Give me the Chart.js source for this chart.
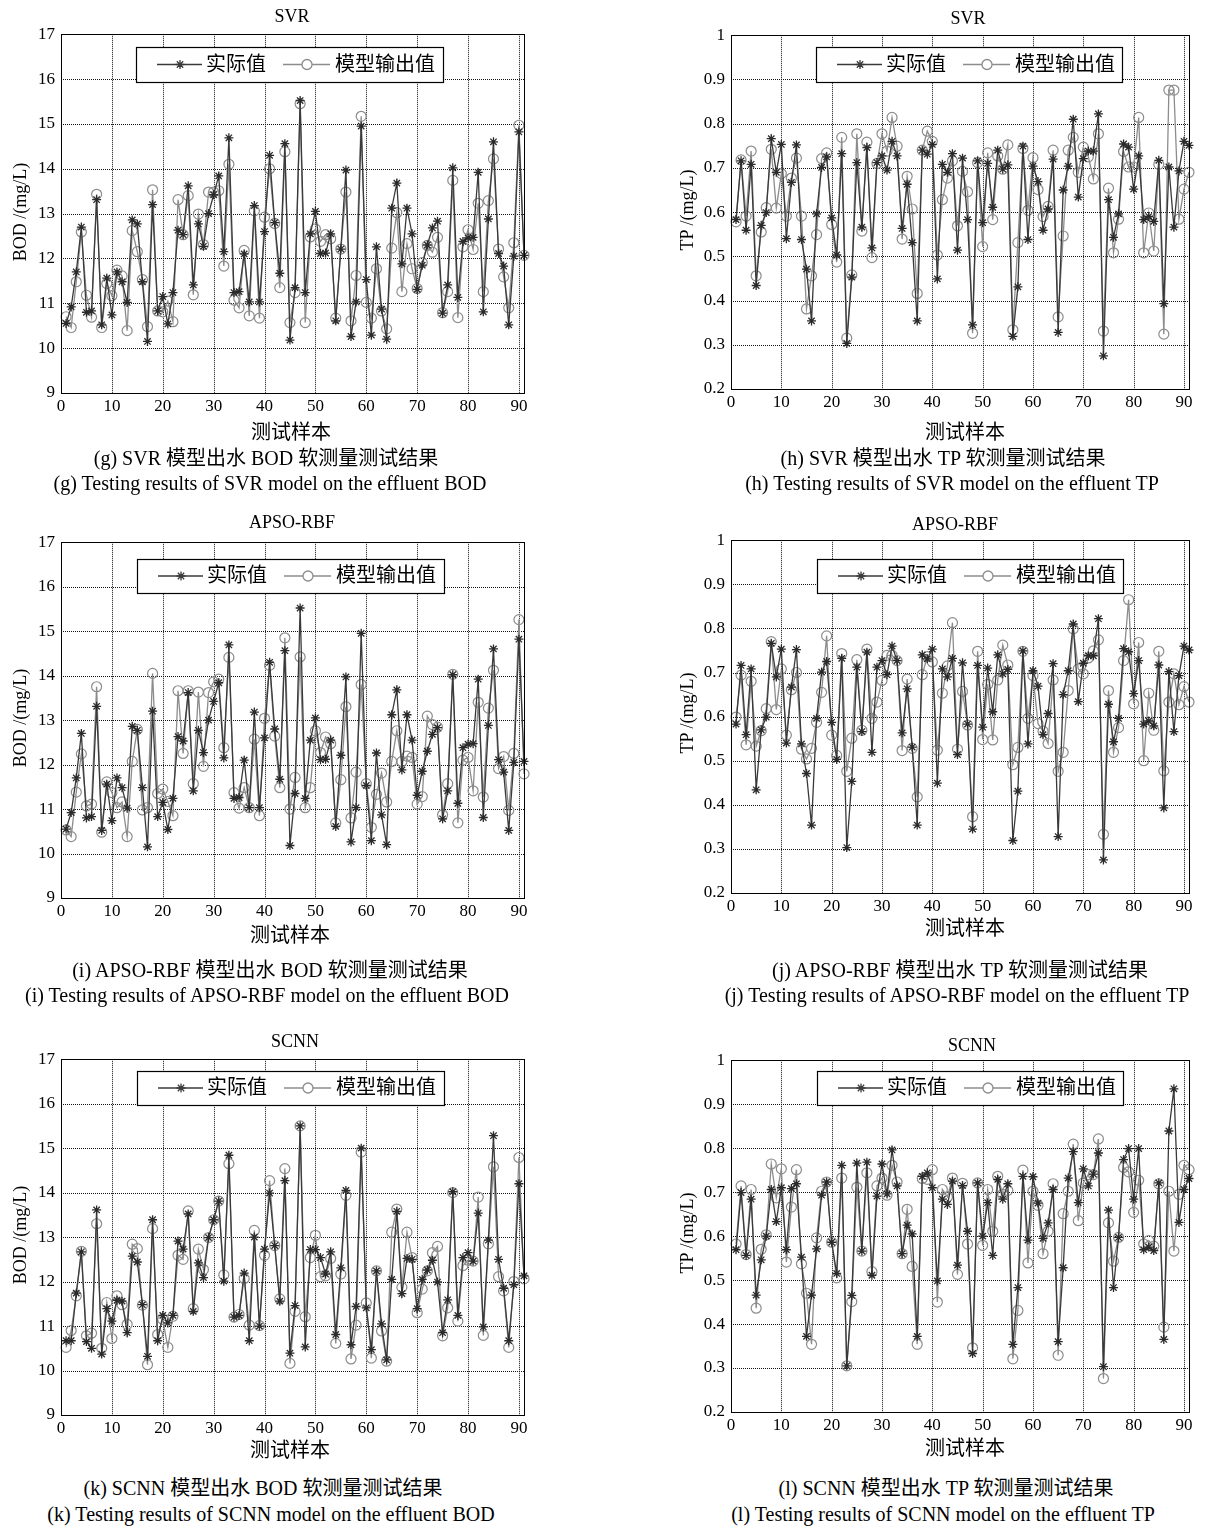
<!DOCTYPE html>
<html>
<head>
<meta charset="utf-8">
<script src="https://cdn.jsdelivr.net/npm/chart.js@4.4.0/dist/chart.umd.min.js"></script>
<style>
  html,body{margin:0;padding:0;background:#fff;}
  body{width:1205px;height:1527px;position:relative;overflow:hidden;}
  canvas{position:absolute;}
  .t{position:absolute;transform:translate(-50%,-50%);white-space:nowrap;color:#000;
     font-family:"Liberation Serif","Noto Sans CJK SC",serif;line-height:1;}
  .rot{transform:translate(-50%,-50%) rotate(-90deg);}
</style>
</head>
<body>
<script>
// ---------------- data ----------------
const xTicks = [0,10,20,30,40,50,60,70,80,90];
const bodYTicks = [9,10,11,12,13,14,15,16,17];
const tpYTicks = [0.2,0.3,0.4,0.5,0.6,0.7,0.8,0.9,1];
const seriesNames = ['实际值','模型输出值'];

const bodActual = [10.55,10.92,11.70,12.70,10.80,10.83,13.31,10.52,11.56,10.74,
 11.70,11.48,11.02,12.86,12.77,11.48,10.15,13.20,10.83,11.15,
 10.54,11.24,12.63,12.53,13.62,11.41,12.77,12.27,13.00,13.42,
 13.84,12.15,14.69,11.24,11.26,12.10,11.03,13.18,11.03,12.60,
 14.30,12.80,11.67,14.56,10.18,11.35,15.52,11.24,12.55,13.05,
 12.11,12.12,12.55,10.61,12.21,13.97,10.26,11.03,14.95,11.53,
 10.29,12.26,10.87,10.20,13.12,13.68,11.88,13.12,12.55,11.31,
 11.85,12.30,12.68,12.83,10.78,11.41,14.02,11.13,12.38,12.46,
 12.47,13.92,10.81,12.88,14.60,12.11,11.83,10.52,12.05,14.82,12.07];

const bodSvr = [10.70,10.46,11.48,12.59,11.18,10.69,13.43,10.46,11.44,11.17,
 11.74,11.61,10.39,12.62,12.15,11.53,10.48,13.53,10.83,10.81,
 11.05,10.59,13.31,12.53,13.40,11.19,12.99,12.31,13.48,13.48,
 13.51,11.83,14.10,11.07,10.90,12.18,10.72,13.06,10.67,12.92,
 14.00,12.78,11.35,14.38,10.57,11.24,15.45,10.57,12.48,12.66,
 12.38,12.53,12.44,10.67,12.21,13.48,10.61,11.62,15.17,11.02,
 10.67,11.77,10.83,10.43,12.23,13.02,11.26,12.33,11.77,11.33,
 11.91,12.29,12.14,12.47,10.79,11.26,13.74,10.68,12.26,12.64,
 12.20,13.23,11.26,13.29,14.22,12.21,11.59,10.90,12.35,14.97,12.07];

const bodApso = [10.53,10.38,11.38,12.24,11.07,11.11,13.75,10.48,11.61,11.37,
 11.03,11.16,10.38,12.07,12.79,10.98,11.03,14.05,11.35,11.45,
 11.17,10.85,13.66,12.25,13.66,11.57,13.63,11.96,13.62,13.86,
 13.92,12.38,14.41,11.37,11.02,11.48,11.03,12.57,10.85,13.04,
 14.23,12.64,11.48,14.85,11.00,11.71,14.42,11.03,11.48,12.76,
 12.27,12.62,12.47,10.69,11.66,13.30,10.80,11.83,13.80,11.57,
 10.59,11.33,11.81,11.16,12.07,12.76,12.07,12.19,12.16,11.11,
 11.28,13.09,12.90,12.84,10.87,11.57,14.03,10.69,12.10,12.16,
 11.41,13.40,11.27,13.27,14.12,11.91,12.18,10.97,12.25,15.26,11.79];

const bodActualScnn = [10.67,10.67,11.74,12.67,10.65,10.50,13.61,10.37,11.39,11.11,
 11.58,11.56,10.85,12.57,12.44,11.48,10.32,13.39,10.67,11.24,
 11.07,11.24,12.91,12.73,13.52,11.33,12.42,12.09,12.99,13.39,
 13.81,12.01,14.84,11.20,11.24,12.19,10.67,13.00,11.00,12.73,
 13.99,12.81,11.56,14.27,10.39,11.46,15.50,10.53,12.72,12.72,
 12.54,12.17,12.67,10.81,12.31,14.05,10.58,11.44,15.00,11.41,
 10.47,12.24,11.05,10.24,12.05,13.58,11.73,12.52,12.50,11.39,
 12.05,12.26,12.48,11.99,10.85,11.59,14.02,11.24,12.54,12.65,
 12.46,13.54,10.98,12.93,15.28,12.50,11.85,10.67,11.93,14.20,12.13];

const bodScnn = [10.52,10.90,11.68,12.68,10.78,10.84,13.30,10.50,11.53,10.72,
 11.68,11.48,11.04,12.84,12.74,11.47,10.13,13.19,10.81,11.15,
 10.52,11.22,12.59,12.50,13.59,11.39,12.73,12.27,12.99,13.39,
 13.81,12.15,14.65,11.20,11.26,12.07,11.02,13.15,11.01,12.59,
 14.27,12.81,11.61,14.54,10.16,11.33,15.50,11.21,12.54,13.04,
 12.11,12.13,12.52,10.61,12.17,13.94,10.26,11.02,14.91,11.52,
 10.28,12.24,10.89,10.21,13.11,13.63,11.87,13.11,12.54,11.30,
 11.83,12.24,12.65,12.79,10.78,11.41,14.00,11.11,12.36,12.48,
 12.46,13.90,10.79,12.85,14.58,12.11,11.79,10.52,12.00,14.79,12.06];

const tpActual = [0.583,0.716,0.559,0.708,0.434,0.570,0.599,0.766,0.690,0.753,
 0.540,0.667,0.752,0.538,0.471,0.354,0.596,0.701,0.725,0.587,
 0.503,0.732,0.303,0.453,0.712,0.566,0.746,0.519,0.712,0.727,
 0.695,0.760,0.727,0.563,0.663,0.531,0.354,0.740,0.731,0.753,
 0.449,0.708,0.690,0.732,0.514,0.722,0.583,0.345,0.716,0.576,
 0.710,0.611,0.740,0.697,0.707,0.319,0.431,0.749,0.538,0.704,
 0.669,0.559,0.607,0.720,0.328,0.650,0.704,0.810,0.634,0.721,
 0.738,0.738,0.822,0.275,0.628,0.543,0.596,0.754,0.747,0.652,
 0.727,0.583,0.590,0.579,0.717,0.393,0.702,0.566,0.693,0.760,0.751];

const tpSvr = [0.578,0.718,0.591,0.738,0.456,0.555,0.610,0.742,0.609,0.687,
 0.591,0.677,0.722,0.591,0.381,0.456,0.549,0.721,0.734,0.572,
 0.487,0.769,0.315,0.458,0.777,0.557,0.758,0.497,0.710,0.777,
 0.738,0.814,0.749,0.539,0.681,0.607,0.416,0.740,0.783,0.760,
 0.503,0.628,0.677,0.716,0.569,0.692,0.646,0.326,0.712,0.522,
 0.734,0.583,0.727,0.697,0.752,0.334,0.531,0.744,0.604,0.723,
 0.651,0.590,0.613,0.740,0.363,0.546,0.740,0.769,0.690,0.747,
 0.725,0.675,0.777,0.331,0.654,0.508,0.584,0.737,0.702,0.702,
 0.814,0.508,0.598,0.512,0.708,0.324,0.876,0.876,0.584,0.652,0.690];

const tpApso = [0.599,0.694,0.536,0.680,0.533,0.568,0.618,0.770,0.616,0.708,
 0.558,0.661,0.700,0.526,0.504,0.528,0.587,0.655,0.783,0.558,
 0.512,0.743,0.476,0.551,0.729,0.569,0.753,0.596,0.633,0.682,
 0.739,0.739,0.727,0.523,0.685,0.528,0.418,0.695,0.736,0.724,
 0.524,0.653,0.715,0.813,0.526,0.657,0.581,0.373,0.748,0.548,
 0.673,0.547,0.683,0.762,0.717,0.491,0.530,0.748,0.596,0.693,
 0.584,0.567,0.539,0.683,0.476,0.519,0.659,0.799,0.708,0.697,
 0.733,0.749,0.774,0.333,0.659,0.519,0.575,0.727,0.865,0.629,
 0.768,0.500,0.653,0.569,0.748,0.477,0.633,0.697,0.627,0.668,0.633];

const tpActualScnn = [0.569,0.699,0.556,0.684,0.466,0.546,0.600,0.706,0.633,0.710,
 0.569,0.708,0.719,0.552,0.372,0.466,0.571,0.693,0.723,0.586,
 0.515,0.761,0.305,0.465,0.766,0.566,0.768,0.511,0.691,0.764,
 0.696,0.796,0.714,0.560,0.625,0.605,0.372,0.736,0.744,0.710,
 0.498,0.684,0.672,0.725,0.534,0.715,0.611,0.333,0.721,0.600,
 0.676,0.556,0.729,0.684,0.719,0.354,0.483,0.736,0.591,0.735,
 0.675,0.595,0.630,0.706,0.360,0.528,0.732,0.792,0.676,0.753,
 0.714,0.741,0.789,0.303,0.659,0.483,0.597,0.774,0.799,0.684,
 0.799,0.569,0.575,0.567,0.721,0.365,0.839,0.935,0.631,0.706,0.731];

const tpScnn = [0.582,0.714,0.558,0.706,0.436,0.570,0.603,0.764,0.687,0.753,
 0.541,0.666,0.751,0.537,0.470,0.354,0.596,0.702,0.723,0.586,
 0.505,0.732,0.305,0.451,0.711,0.566,0.744,0.519,0.714,0.732,
 0.693,0.761,0.723,0.560,0.661,0.531,0.354,0.731,0.729,0.751,
 0.450,0.706,0.689,0.732,0.513,0.720,0.582,0.346,0.721,0.579,
 0.706,0.611,0.736,0.695,0.704,0.321,0.431,0.750,0.539,0.702,
 0.670,0.560,0.611,0.719,0.329,0.651,0.702,0.809,0.635,0.721,
 0.740,0.740,0.821,0.276,0.630,0.543,0.597,0.756,0.746,0.654,
 0.727,0.582,0.590,0.577,0.719,0.393,0.702,0.566,0.695,0.761,0.751];

// ---------------- layout ----------------
const FONT = '"Liberation Serif","Noto Sans CJK SC",serif';
const ACT_COLOR = '#3a3a3a';
const MOD_COLOR = '#8c8c8c';

const panels = [
  {cl:0,   cw:545, plotLeft:61,  plotRight:524,  plotTop:30,   plotBottom:393,  yT:bodYTicks, ymin:9,   ymax:17, act:bodActual,     mod:bodSvr,  leg:[136,47,443,82]},
  {cl:670, cw:535, plotLeft:731, plotRight:1189, plotTop:31,   plotBottom:389,  yT:tpYTicks,  ymin:0.2, ymax:1,  act:tpActual,      mod:tpSvr,   leg:[816,47,1122,82]},
  {cl:0,   cw:545, plotLeft:61,  plotRight:524,  plotTop:538,  plotBottom:898,  yT:bodYTicks, ymin:9,   ymax:17, act:bodActual,     mod:bodApso, leg:[137,559,444,593]},
  {cl:670, cw:535, plotLeft:731, plotRight:1189, plotTop:536,  plotBottom:893,  yT:tpYTicks,  ymin:0.2, ymax:1,  act:tpActual,      mod:tpApso,  leg:[817,559,1123,593]},
  {cl:0,   cw:545, plotLeft:61,  plotRight:524,  plotTop:1055, plotBottom:1415, yT:bodYTicks, ymin:9,   ymax:17, act:bodActualScnn, mod:bodScnn, leg:[137,1071,444,1105]},
  {cl:670, cw:535, plotLeft:731, plotRight:1189, plotTop:1056, plotBottom:1412, yT:tpYTicks,  ymin:0.2, ymax:1,  act:tpActualScnn,  mod:tpScnn,  leg:[817,1071,1123,1105]}
];

const texts = [
  ['SVR',292,16,18],['SVR',968,18,18],
  ['APSO-RBF',292,522,18],['APSO-RBF',955,524,18],
  ['SCNN',295,1041,18],['SCNN',972,1045,18],
  ['测试样本',291,432,20],['测试样本',965,432,20],
  ['测试样本',290,935,20],['测试样本',965,928,20],
  ['测试样本',290,1450,20],['测试样本',965,1448,20],
  ['(g) SVR 模型出水 BOD 软测量测试结果',266,458,20],
  ['(g) Testing results of SVR model on the effluent BOD',270,483,20],
  ['(h) SVR 模型出水 TP 软测量测试结果',943,458,20],
  ['(h) Testing results of SVR model on the effluent TP',952,483,20],
  ['(i) APSO-RBF 模型出水 BOD 软测量测试结果',270,970,20],
  ['(i) Testing results of APSO-RBF model on the effluent BOD',267,995,20],
  ['(j) APSO-RBF 模型出水 TP 软测量测试结果',960,970,20],
  ['(j) Testing results of APSO-RBF model on the effluent TP',957,995,20],
  ['(k) SCNN 模型出水 BOD 软测量测试结果',263,1488,20],
  ['(k) Testing results of SCNN model on the effluent BOD',271,1514,20],
  ['(l) SCNN 模型出水 TP 软测量测试结果',946,1488,20],
  ['(l) Testing results of SCNN model on the effluent TP',943,1514,20]
];
const yLabels = [
  ['BOD /(mg/L)',20,212],['TP /(mg/L)',687,210],
  ['BOD /(mg/L)',20,718],['TP /(mg/L)',687,713],
  ['BOD /(mg/L)',20,1235],['TP /(mg/L)',687,1233]
];

// ---------------- drawing helpers ----------------
function drawStar(ctx,x,y,r){
  ctx.beginPath();
  for(let k=0;k<4;k++){
    const a=k*Math.PI/4;
    ctx.moveTo(x-Math.cos(a)*r,y-Math.sin(a)*r);
    ctx.lineTo(x+Math.cos(a)*r,y+Math.sin(a)*r);
  }
  ctx.stroke();
}

const gridPlugin = {
  id:'dotGrid',
  beforeDatasetsDraw(chart){
    const {ctx, chartArea:a, scales:{x,y}} = chart;
    ctx.save();
    ctx.strokeStyle='#111'; ctx.lineWidth=1; ctx.setLineDash([1,1]);
    x.ticks.forEach(t=>{
      const px=Math.round(x.getPixelForValue(t.value))+0.5;
      if(px<=a.left+1||px>=a.right-1) return;
      ctx.beginPath(); ctx.moveTo(px,a.top); ctx.lineTo(px,a.bottom); ctx.stroke();
    });
    y.ticks.forEach(t=>{
      const py=Math.round(y.getPixelForValue(t.value))+0.5;
      if(py<=a.top+1||py>=a.bottom-1) return;
      ctx.beginPath(); ctx.moveTo(a.left,py); ctx.lineTo(a.right,py); ctx.stroke();
    });
    ctx.restore();
  },
  afterDraw(chart){
    const {ctx, chartArea:a} = chart;
    const o = chart.options.plugins.boxLegend;
    ctx.save();
    ctx.setLineDash([]);
    ctx.strokeStyle='#000'; ctx.lineWidth=1;
    ctx.strokeRect(Math.round(a.left)+0.5,Math.round(a.top)+0.5,Math.round(a.right-a.left),Math.round(a.bottom-a.top));
    // legend box
    const x1=o.x1,y1=o.y1,x2=o.x2,y2=o.y2, ym=(y1+y2)/2;
    ctx.fillStyle='#fff';
    ctx.fillRect(x1,y1,x2-x1,y2-y1);
    ctx.strokeStyle='#000'; ctx.lineWidth=1.2;
    ctx.strokeRect(x1+0.5,y1+0.5,x2-x1,y2-y1);
    // actual
    ctx.strokeStyle=ACT_COLOR; ctx.lineWidth=1.3;
    ctx.beginPath(); ctx.moveTo(x1+21,ym); ctx.lineTo(x1+66,ym); ctx.stroke();
    drawStar(ctx,x1+44,ym,4.5);
    // model
    ctx.strokeStyle=MOD_COLOR;
    ctx.beginPath(); ctx.moveTo(x1+147,ym); ctx.lineTo(x1+194,ym); ctx.stroke();
    ctx.fillStyle='#fff';
    ctx.beginPath(); ctx.arc(x1+171,ym,5,0,Math.PI*2); ctx.fill(); ctx.stroke();
    ctx.fillStyle='#000'; ctx.font='20px '+FONT; ctx.textBaseline='middle'; ctx.textAlign='left';
    ctx.fillText(chart.data.datasets[0].label,x1+70,ym+1);
    ctx.fillText(chart.data.datasets[1].label,x1+199,ym+1);
    ctx.restore();
  }
};

panels.forEach(p=>{
  const top = p.plotTop-12;
  const ch = p.plotBottom+28-top;
  const cv=document.createElement('canvas');
  cv.width=p.cw; cv.height=ch;
  cv.style.left=p.cl+'px'; cv.style.top=top+'px';
  cv.style.width=p.cw+'px'; cv.style.height=ch+'px';
  document.body.appendChild(cv);
  new Chart(cv,{
    type:'line',
    data:{datasets:[
      {label:seriesNames[0], data:p.act.map((v,i)=>({x:i+1,y:v})),
       borderColor:ACT_COLOR, borderWidth:1.3, pointStyle:'star', pointRadius:4.5,
       pointBorderColor:'#2a2a2a', pointBackgroundColor:'#2a2a2a', pointBorderWidth:1.3,
       tension:0, clip:false, fill:false},
      {label:seriesNames[1], data:p.mod.map((v,i)=>({x:i+1,y:v})),
       borderColor:MOD_COLOR, borderWidth:1.3, pointStyle:'circle', pointRadius:5,
       pointBorderColor:MOD_COLOR, pointBackgroundColor:'rgba(0,0,0,0)', pointBorderWidth:1.2,
       tension:0, clip:false, fill:false}
    ]},
    options:{
      responsive:false, animation:false, devicePixelRatio:1,
      layout:{padding:{top:12,left:0,right:p.cl+p.cw-p.plotRight,bottom:0}},
      plugins:{legend:{display:false},tooltip:{enabled:false},title:{display:false},
        boxLegend:{x1:p.leg[0]-p.cl,y1:p.leg[1]-top,x2:p.leg[2]-p.cl,y2:p.leg[3]-top}},
      scales:{
        x:{type:'linear',min:0,max:91,
           afterBuildTicks:s=>{s.ticks=xTicks.map(v=>({value:v}));},
           afterFit:s=>{s.height=28;},
           grid:{display:false,drawTicks:false},border:{display:false},
           ticks:{color:'#000',font:{family:FONT,size:17},padding:3,maxRotation:0,autoSkip:false,
                  callback:v=>String(v)}},
        y:{type:'linear',min:p.ymin,max:p.ymax,
           afterBuildTicks:s=>{s.ticks=p.yT.map(v=>({value:v}));},
           afterFit:s=>{s.width=p.plotLeft-p.cl;},
           grid:{display:false,drawTicks:false},border:{display:false},
           ticks:{color:'#000',font:{family:FONT,size:17},padding:6,autoSkip:false,
                  callback:v=>String(Math.round(v*100)/100)}}
      }
    },
    plugins:[gridPlugin]
  });
});

texts.forEach(([s,x,y,f])=>{
  const d=document.createElement('div'); d.className='t';
  d.textContent=s; d.style.left=x+'px'; d.style.top=y+'px'; d.style.fontSize=f+'px';
  document.body.appendChild(d);
});
yLabels.forEach(([s,x,y])=>{
  const d=document.createElement('div'); d.className='t rot';
  d.textContent=s; d.style.left=x+'px'; d.style.top=y+'px'; d.style.fontSize='18px';
  document.body.appendChild(d);
});
</script>
</body>
</html>
